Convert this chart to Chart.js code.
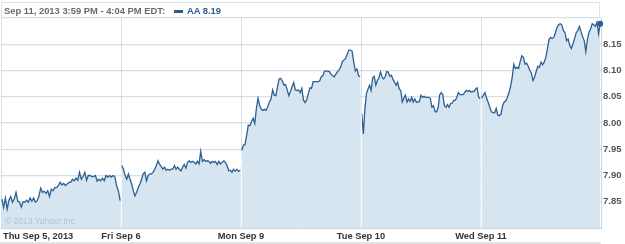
<!DOCTYPE html>
<html>
<head>
<meta charset="utf-8">
<script src="https://cdn.jsdelivr.net/npm/chart.js@4/dist/chart.umd.min.js"></script>
<style>
    body { margin: 0; background: #fff; }
    #wrap { position: relative; width: 625px; height: 244px; overflow: hidden; font-family: "Liberation Sans", Arial, sans-serif; }
    #chart { position: absolute; left: 0; top: 0; }
    #header { position: absolute; left: 1px; top: 2px; width: 599px; height: 16px; border: 1px solid #e2e2e2; border-bottom: none; box-sizing: border-box; }
    #header span { position: absolute; top: 2px; font-weight: bold; font-size: 9.4px; line-height: 12px; white-space: nowrap; }
    #when { left: 2px; color: #6b6b6b; }
    #swatch { left: 172px; top: 7px !important; width: 9px; height: 3px; background: #2c5c8c; }
    #quote { left: 185px; color: #2c5c8c; }
    #credit { position: absolute; left: 5px; top: 216px; font-size: 8.5px; color: #b4c3d1; white-space: nowrap; }
    #footer { position: absolute; left: 0; top: 242px; width: 601px; height: 2px; background: #e4e4e4; }
</style>
</head>
<body>
<div id="wrap">
    <canvas id="chart" width="625" height="244"></canvas>
    <div id="header">
        <span id="when">Sep 11, 2013 3:59 PM - 4:04 PM EDT:</span>
        <span id="swatch"></span>
        <span id="quote">AA 8.19</span>
    </div>
    <div id="credit">© 2013 Yahoo! Inc.</div>
    <div id="footer"></div>
</div>
<script>
// day labels for the x axis
var dayLabels = ['Thu Sep 5, 2013', 'Fri Sep 6', 'Mon Sep 9', 'Tue Sep 10', 'Wed Sep 11'];

// AA price, one array per trading session
var thuPrices = [7.855, 7.839, 7.857, 7.836, 7.853, 7.860, 7.849, 7.855, 7.868, 7.851,
    7.849, 7.840, 7.850, 7.849, 7.853, 7.849, 7.857, 7.851, 7.857, 7.849,
    7.852, 7.861, 7.876, 7.868, 7.870, 7.866, 7.871, 7.860, 7.874, 7.871,
    7.877, 7.877, 7.881, 7.887, 7.882, 7.885, 7.881, 7.884, 7.887, 7.887,
    7.893, 7.890, 7.895, 7.891, 7.906, 7.893, 7.898, 7.906, 7.891, 7.900,
    7.900, 7.898, 7.898, 7.900, 7.889, 7.893, 7.890, 7.895, 7.890, 7.900,
    7.897, 7.900, 7.897, 7.900, 7.898, 7.881, 7.871, 7.852];

var friPrices = [7.919, 7.912, 7.900, 7.893, 7.903, 7.893, 7.884, 7.871, 7.861, 7.868,
    7.877, 7.884, 7.893, 7.903, 7.906, 7.890, 7.900, 7.903, 7.903, 7.906,
    7.912, 7.919, 7.928, 7.921, 7.917, 7.912, 7.916, 7.910, 7.912, 7.910,
    7.912, 7.912, 7.919, 7.912, 7.916, 7.912, 7.909, 7.916, 7.921, 7.914,
    7.925, 7.928, 7.925, 7.927, 7.925, 7.922, 7.927, 7.922, 7.946, 7.927,
    7.930, 7.927, 7.928, 7.927, 7.923, 7.927, 7.925, 7.927, 7.921, 7.927,
    7.922, 7.925, 7.928, 7.925, 7.919, 7.909, 7.910, 7.906, 7.912, 7.908,
    7.912, 7.908, 7.910];

var monPrices = [7.948, 7.958, 7.959, 7.977, 7.996, 7.995, 8.003, 8.009, 7.999, 8.028,
    8.047, 8.034, 8.026, 8.024, 8.026, 8.024, 8.031, 8.040, 8.045, 8.063,
    8.053, 8.052, 8.069, 8.084, 8.085, 8.080, 8.072, 8.073, 8.063, 8.052,
    8.060, 8.069, 8.077, 8.063, 8.062, 8.063, 8.058, 8.066, 8.044, 8.039,
    8.044, 8.056, 8.067, 8.066, 8.079, 8.079, 8.079, 8.079, 8.080, 8.088,
    8.090, 8.099, 8.099, 8.099, 8.098, 8.093, 8.090, 8.088, 8.093, 8.098,
    8.101, 8.107, 8.117, 8.120, 8.123, 8.131, 8.139, 8.139, 8.137, 8.117,
    8.099, 8.103, 8.090, 8.088];

var tuePrices = [8.018, 7.979, 8.027, 8.056, 8.065, 8.072, 8.062, 8.086, 8.089, 8.072,
    8.081, 8.086, 8.097, 8.088, 8.084, 8.088, 8.098, 8.097, 8.089, 8.091,
    8.083, 8.078, 8.072, 8.078, 8.065, 8.062, 8.040, 8.047, 8.053, 8.040,
    8.046, 8.041, 8.049, 8.040, 8.046, 8.040, 8.040, 8.041, 8.053, 8.049,
    8.051, 8.049, 8.049, 8.049, 8.047, 8.030, 8.033, 8.022, 8.021, 8.030,
    8.054, 8.058, 8.054, 8.033, 8.030, 8.035, 8.030, 8.037, 8.038, 8.043,
    8.043, 8.049, 8.058, 8.054, 8.054, 8.054, 8.058, 8.062, 8.060, 8.062,
    8.059, 8.060, 8.060, 8.065, 8.067, 8.049, 8.046];

var wedPrices = [8.047, 8.053, 8.058, 8.047, 8.039, 8.030, 8.021, 8.020, 8.019, 8.028,
    8.015, 8.014, 8.017, 8.033, 8.040, 8.042, 8.049, 8.058, 8.070, 8.087,
    8.112, 8.104, 8.106, 8.104, 8.117, 8.128, 8.125, 8.112, 8.114, 8.108,
    8.100, 8.095, 8.081, 8.087, 8.098, 8.108, 8.106, 8.116, 8.111, 8.116,
    8.125, 8.141, 8.159, 8.163, 8.161, 8.163, 8.172, 8.182, 8.187, 8.189,
    8.187, 8.176, 8.172, 8.157, 8.160, 8.147, 8.142, 8.151, 8.161, 8.172,
    8.176, 8.184, 8.174, 8.165, 8.157, 8.136, 8.159, 8.173, 8.179, 8.189,
    8.187, 8.184, 8.192, 8.170, 8.189];

var yMin = 7.80;
var yMax = 8.20;
var yStep = 0.05;

var lineColor = '#2e5f92';

document.addEventListener('DOMContentLoaded', function () {
    var sessions = [thuPrices, friPrices, monPrices, tuePrices, wedPrices];
    var points = [];
    sessions.forEach(function (prices, d) {
        prices.forEach(function (p, i) {
            points.push({ x: d + (i + 0.5) / prices.length, y: p });
        });
    });
    var lastIndex = points.length - 1;

    // light day separators showing through the shaded area
    var dayLines = {
        id: 'dayLines',
        afterDatasetsDraw: function (chart) {
            var pts = chart.getDatasetMeta(0).data;
            var ctx = chart.ctx;
            var area = chart.chartArea;
            var xScale = chart.scales.x;
            ctx.save();
            ctx.beginPath();
            ctx.moveTo(pts[0].x, area.bottom);
            pts.forEach(function (p) { ctx.lineTo(p.x, p.y); });
            ctx.lineTo(pts[pts.length - 1].x, area.bottom);
            ctx.closePath();
            ctx.clip();
            ctx.strokeStyle = 'rgba(255, 255, 255, 0.8)';
            ctx.lineWidth = 1;
            for (var i = 1; i < dayLabels.length; i++) {
                var x = Math.round(xScale.getPixelForValue(i)) + 0.5;
                ctx.beginPath();
                ctx.moveTo(x, area.top);
                ctx.lineTo(x, area.bottom);
                ctx.stroke();
            }
            ctx.restore();
        }
    };

    // day labels under the plot, the first one sits at the left edge
    var dayTicks = {
        id: 'dayTicks',
        afterDraw: function (chart) {
            var ctx = chart.ctx;
            var area = chart.chartArea;
            var xScale = chart.scales.x;
            ctx.save();
            ctx.font = 'bold 9.3px "Liberation Sans", Arial, sans-serif';
            ctx.fillStyle = '#333333';
            ctx.textBaseline = 'middle';
            dayLabels.forEach(function (label, i) {
                var x = xScale.getPixelForValue(i);
                if (i === 0) {
                    ctx.textAlign = 'left';
                    x = area.left + 2;
                } else {
                    ctx.textAlign = 'center';
                }
                ctx.fillText(label, x, area.bottom + 8);
            });
            ctx.restore();
        }
    };

    new Chart(document.getElementById('chart'), {
        type: 'line',
        data: {
            datasets: [{
                label: 'AA',
                data: points,
                borderColor: lineColor,
                borderWidth: 1.3,
                backgroundColor: 'rgb(214, 229, 240)',
                fill: 'start',
                tension: 0,
                clip: false,
                pointRadius: function (c) { return c.dataIndex === lastIndex ? 3 : 0; },
                pointBackgroundColor: lineColor,
                pointBorderWidth: 0,
                segment: {
                    borderColor: function (c) {
                        return Math.floor(c.p0.parsed.x) !== Math.floor(c.p1.parsed.x) ? 'transparent' : undefined;
                    }
                }
            }]
        },
        options: {
            responsive: false,
            animation: false,
            devicePixelRatio: 1,
            layout: {
                autoPadding: false,
                padding: { left: 1, top: 18, right: 0, bottom: 16 }
            },
            plugins: {
                legend: { display: false },
                tooltip: { enabled: false }
            },
            scales: {
                x: {
                    type: 'linear',
                    min: 0,
                    max: dayLabels.length,
                    ticks: { stepSize: 1, display: false },
                    grid: { color: '#d8e0e7', drawTicks: false },
                    border: { display: true, color: '#ccd7e0' },
                    afterFit: function (scale) { scale.height = 0; }
                },
                y: {
                    position: 'right',
                    min: yMin,
                    max: yMax,
                    z: 1,
                    ticks: {
                        stepSize: yStep,
                        padding: 2,
                        color: '#555555',
                        font: { family: '"Liberation Sans", Arial, sans-serif', size: 9.5, weight: 'bold' },
                        callback: function (v) {
                            if (v < yMin + 0.01 || v > yMax - 0.01) return '';
                            return v.toFixed(2);
                        }
                    },
                    grid: { color: 'rgba(120, 150, 180, 0.3)', lineWidth: 1.2, drawTicks: false },
                    border: { display: true, color: '#ccd7e0' },
                    afterFit: function (scale) { scale.width = 24; }
                }
            }
        },
        plugins: [dayLines, dayTicks]
    });
});
</script>
</body>
</html>
